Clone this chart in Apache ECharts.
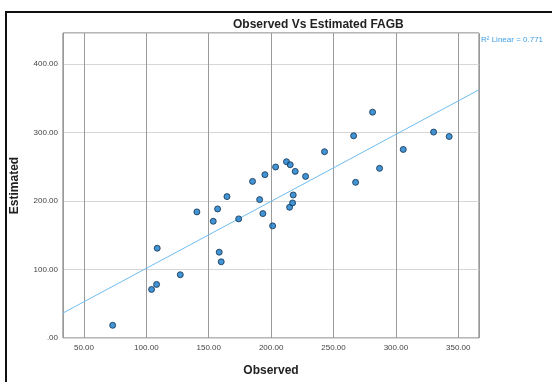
<!DOCTYPE html>
<html>
<head>
<meta charset="utf-8">
<script src="https://cdn.jsdelivr.net/npm/echarts@6/dist/echarts.min.js"></script>
<style>
  html, body { margin: 0; padding: 0; background: #fff; }
  #chart { width: 552px; height: 382px; }
</style>
</head>
<body>
<div id="chart"></div>
<script>
// observed / estimated pairs
const observed = [73.0, 104.2, 108.2, 108.7, 127.2, 140.5, 153.6, 157.1, 158.4, 160.0,
  164.6, 174.0, 190.8, 193.4, 201.2, 185.1, 195.0, 203.6, 212.3, 215.3, 214.8, 217.2,
  217.7, 219.3, 227.6, 242.8, 266.1, 281.3, 267.7, 286.9, 305.9, 330.2, 342.7];
const estimated = [18.5, 70.9, 78.2, 131.0, 92.3, 184.0, 170.3, 188.3, 125.2, 111.2,
  206.3, 173.8, 201.9, 181.5, 163.6, 228.5, 238.3, 249.5, 257.2, 252.8, 190.7, 197.1,
  208.7, 243.1, 235.8, 271.8, 295.0, 329.5, 227.1, 247.5, 275.1, 300.4, 294.0];

const xTicks = [50, 100, 150, 200, 250, 300, 350];
const yTicks = [0, 100, 200, 300, 400];
const xMin = 33.2, xMax = 366.6;
const yMin = 0, yMax = 445;

// fit line as drawn (R2 linear = 0.771)
const fitIntercept = 4.0;
const fitSlope = 0.977;
const rSquared = 0.771;

const points = observed.map((x, i) => [x, estimated[i]]);
const fitLine = [xMin, xMax].map(x => [x, fitIntercept + fitSlope * x]);

const fmt = v => (v === 0 ? '.00' : v.toFixed(2));

let chart = echarts.init(document.getElementById('chart'));
let option = {
  backgroundColor: '#fff',
  animation: false,
  title: {
    text: 'Observed Vs Estimated FAGB',
    left: 228,
    top: 14,
    textStyle: { fontFamily: 'Liberation Sans', fontSize: 12, fontWeight: 'bold', color: '#222' }
  },
  grid: {
    left: 63, right: 73, top: 33, bottom: 43,
    show: true, borderColor: '#6e6e6e', borderWidth: 1
  },
  xAxis: {
    type: 'value', min: xMin, max: xMax,
    name: 'Observed', nameLocation: 'middle', nameGap: 27,
    nameTextStyle: { fontFamily: 'Liberation Sans', fontSize: 12, fontWeight: 'bold', color: '#222' },
    axisLine: { show: false }, axisTick: { show: false },
    axisLabel: {
      customValues: xTicks, formatter: fmt, margin: 6,
      fontFamily: 'Liberation Sans', fontSize: 8, color: '#444'
    },
    splitLine: { show: true, customValues: xTicks, lineStyle: { color: '#9a9a9a', width: 1 } }
  },
  yAxis: {
    type: 'value', min: yMin, max: yMax,
    name: 'Estimated', nameLocation: 'middle', nameGap: 42,
    nameTextStyle: { fontFamily: 'Liberation Sans', fontSize: 12, fontWeight: 'bold', color: '#222' },
    axisLine: { show: false }, axisTick: { show: false },
    axisLabel: {
      customValues: yTicks, formatter: fmt, margin: 5,
      fontFamily: 'Liberation Sans', fontSize: 8, color: '#444'
    },
    splitLine: { show: true, customValues: yTicks, lineStyle: { color: '#d6d6d6', width: 1 } }
  },
  graphic: [
    {
      type: 'rect', shape: { x: 6, y: 12, width: 600, height: 420 },
      style: { fill: 'none', stroke: '#111', lineWidth: 2 }, z: 100
    },
    {
      type: 'text', left: 481, top: 36,
      style: { text: 'R\u00b2 Linear = ' + rSquared, fill: '#3f9fe6', fontSize: 8, fontFamily: 'Liberation Sans' }
    }
  ],
  series: [
    {
      type: 'line', data: fitLine, symbol: 'none', silent: true,
      lineStyle: { color: '#6fbdf0', width: 1 }, z: 2
    },
    {
      type: 'scatter', data: points, symbolSize: 6,
      itemStyle: { color: '#1479c9', borderColor: '#10304d', borderWidth: 1 }, z: 3
    }
  ]
};
chart.setOption(option, true);
</script>
</body>
</html>
